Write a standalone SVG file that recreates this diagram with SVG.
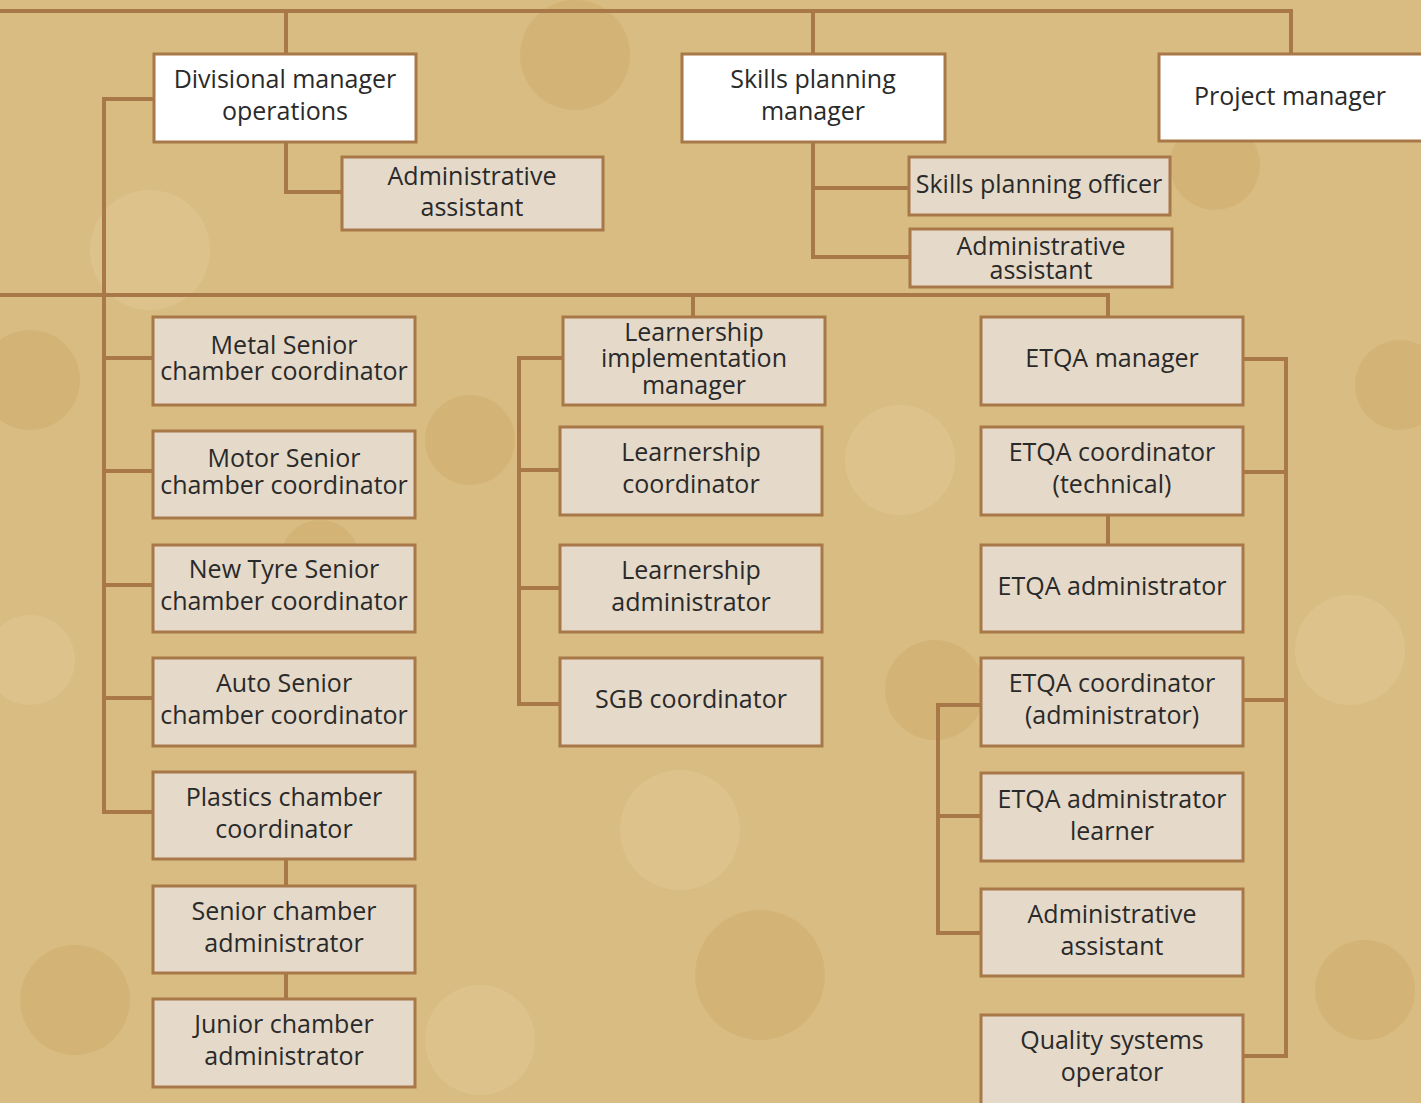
<svg xmlns="http://www.w3.org/2000/svg" width="1421" height="1103" viewBox="0 0 1421 1103">
<style>
.bg{fill:#d9bc82}
.gd{fill:#c9a662;opacity:.35}
.gl{fill:#e6cf9f;opacity:.35}
.box{fill:#e5d9c9;stroke:#a87848;stroke-width:3}
.top{fill:#ffffff;stroke:#a87848;stroke-width:3}
.lbl{font-family:"Open Sans","Liberation Sans",sans-serif;font-size:25px;fill:#2a2a2a;text-anchor:middle}
.con{fill:none;stroke:#a87848;stroke-width:4;stroke-linejoin:miter}
</style>
<rect class="bg" x="0" y="0" width="1421" height="1103"/>
<g id="background">
<circle class="gd" cx="30" cy="380" r="50"/>
<circle class="gd" cx="575" cy="55" r="55"/>
<circle class="gd" cx="1400" cy="385" r="45"/>
<circle class="gd" cx="760" cy="975" r="65"/>
<circle class="gd" cx="75" cy="1000" r="55"/>
<circle class="gd" cx="1365" cy="990" r="50"/>
<circle class="gd" cx="935" cy="690" r="50"/>
<circle class="gd" cx="470" cy="440" r="45"/>
<circle class="gd" cx="1215" cy="165" r="45"/>
<circle class="gd" cx="320" cy="560" r="40"/>
<circle class="gl" cx="150" cy="250" r="60"/>
<circle class="gl" cx="900" cy="460" r="55"/>
<circle class="gl" cx="680" cy="830" r="60"/>
<circle class="gl" cx="1350" cy="650" r="55"/>
<circle class="gl" cx="480" cy="1040" r="55"/>
<circle class="gl" cx="30" cy="660" r="45"/>
</g>
<g id="connectors">
<path class="con" d="M0 11 H1291 V54"/>
<path class="con" d="M286 11 V54"/>
<path class="con" d="M813 11 V54"/>
<path class="con" d="M286 142 V192 H342"/>
<path class="con" d="M154 99 H104 V812 H153"/>
<path class="con" d="M104 358 H153 M104 471 H153 M104 585 H153 M104 698 H153"/>
<path class="con" d="M813 142 V257 H910 M813 188 H909"/>
<path class="con" d="M0 295 H1108 V317"/>
<path class="con" d="M693 295 V317"/>
<path class="con" d="M563 358 H519 V704 H560 M519 470 H560 M519 588 H560"/>
<path class="con" d="M286 859 V886 M286 973 V999"/>
<path class="con" d="M1243 359 H1286 V1056 H1243 M1243 472 H1286 M1243 700 H1286"/>
<path class="con" d="M1108 515 V545"/>
<path class="con" d="M981 705 H938 V933 H981 M938 816 H981"/>
</g>
<g id="divisional-manager"><rect class="top" x="154" y="54" width="262" height="88"/><text class="lbl" x="285" y="88">Divisional manager</text><text class="lbl" x="285" y="120">operations</text></g>
<g id="div-admin-assistant"><rect class="box" x="342" y="157" width="261" height="73"/><text class="lbl" x="472" y="185">Administrative</text><text class="lbl" x="472" y="216">assistant</text></g>
<g id="skills-planning-manager"><rect class="top" x="682" y="54" width="263" height="88"/><text class="lbl" x="813" y="88">Skills planning</text><text class="lbl" x="813" y="120">manager</text></g>
<g id="project-manager"><rect class="top" x="1159" y="54" width="270" height="87"/><text class="lbl" x="1290" y="105">Project manager</text></g>
<g id="skills-planning-officer"><rect class="box" x="909" y="157" width="261" height="58"/><text class="lbl" x="1039" y="193">Skills planning officer</text></g>
<g id="skills-admin-assistant"><rect class="box" x="910" y="229" width="262" height="58"/><text class="lbl" x="1041" y="255">Administrative</text><text class="lbl" x="1041" y="279">assistant</text></g>
<g id="metal"><rect class="box" x="153" y="317" width="262" height="88"/><text class="lbl" x="284" y="354">Metal Senior</text><text class="lbl" x="284" y="380">chamber coordinator</text></g>
<g id="motor"><rect class="box" x="153" y="431" width="262" height="87"/><text class="lbl" x="284" y="467">Motor Senior</text><text class="lbl" x="284" y="494">chamber coordinator</text></g>
<g id="new-tyre"><rect class="box" x="153" y="545" width="262" height="87"/><text class="lbl" x="284" y="578">New Tyre Senior</text><text class="lbl" x="284" y="610">chamber coordinator</text></g>
<g id="auto"><rect class="box" x="153" y="658" width="262" height="88"/><text class="lbl" x="284" y="692">Auto Senior</text><text class="lbl" x="284" y="724">chamber coordinator</text></g>
<g id="plastics"><rect class="box" x="153" y="772" width="262" height="87"/><text class="lbl" x="284" y="806">Plastics chamber</text><text class="lbl" x="284" y="838">coordinator</text></g>
<g id="senior-chamber-admin"><rect class="box" x="153" y="886" width="262" height="87"/><text class="lbl" x="284" y="920">Senior chamber</text><text class="lbl" x="284" y="952">administrator</text></g>
<g id="junior-chamber-admin"><rect class="box" x="153" y="999" width="262" height="88"/><text class="lbl" x="284" y="1033">Junior chamber</text><text class="lbl" x="284" y="1065">administrator</text></g>
<g id="learnership-impl-manager"><rect class="box" x="563" y="317" width="262" height="88"/><text class="lbl" x="694" y="341">Learnership</text><text class="lbl" x="694" y="367">implementation</text><text class="lbl" x="694" y="394">manager</text></g>
<g id="learnership-coordinator"><rect class="box" x="560" y="427" width="262" height="88"/><text class="lbl" x="691" y="461">Learnership</text><text class="lbl" x="691" y="493">coordinator</text></g>
<g id="learnership-administrator"><rect class="box" x="560" y="545" width="262" height="87"/><text class="lbl" x="691" y="579">Learnership</text><text class="lbl" x="691" y="611">administrator</text></g>
<g id="sgb-coordinator"><rect class="box" x="560" y="658" width="262" height="88"/><text class="lbl" x="691" y="708">SGB coordinator</text></g>
<g id="etqa-manager"><rect class="box" x="981" y="317" width="262" height="88"/><text class="lbl" x="1112" y="367">ETQA manager</text></g>
<g id="etqa-coord-technical"><rect class="box" x="981" y="427" width="262" height="88"/><text class="lbl" x="1112" y="461">ETQA coordinator</text><text class="lbl" x="1112" y="493">(technical)</text></g>
<g id="etqa-administrator"><rect class="box" x="981" y="545" width="262" height="87"/><text class="lbl" x="1112" y="595">ETQA administrator</text></g>
<g id="etqa-coord-admin"><rect class="box" x="981" y="658" width="262" height="88"/><text class="lbl" x="1112" y="692">ETQA coordinator</text><text class="lbl" x="1112" y="724">(administrator)</text></g>
<g id="etqa-admin-learner"><rect class="box" x="981" y="773" width="262" height="88"/><text class="lbl" x="1112" y="808">ETQA administrator</text><text class="lbl" x="1112" y="840">learner</text></g>
<g id="etqa-admin-assistant"><rect class="box" x="981" y="889" width="262" height="87"/><text class="lbl" x="1112" y="923">Administrative</text><text class="lbl" x="1112" y="955">assistant</text></g>
<g id="quality-systems-operator"><rect class="box" x="981" y="1015" width="262" height="100"/><text class="lbl" x="1112" y="1049">Quality systems</text><text class="lbl" x="1112" y="1081">operator</text></g>
</svg>
